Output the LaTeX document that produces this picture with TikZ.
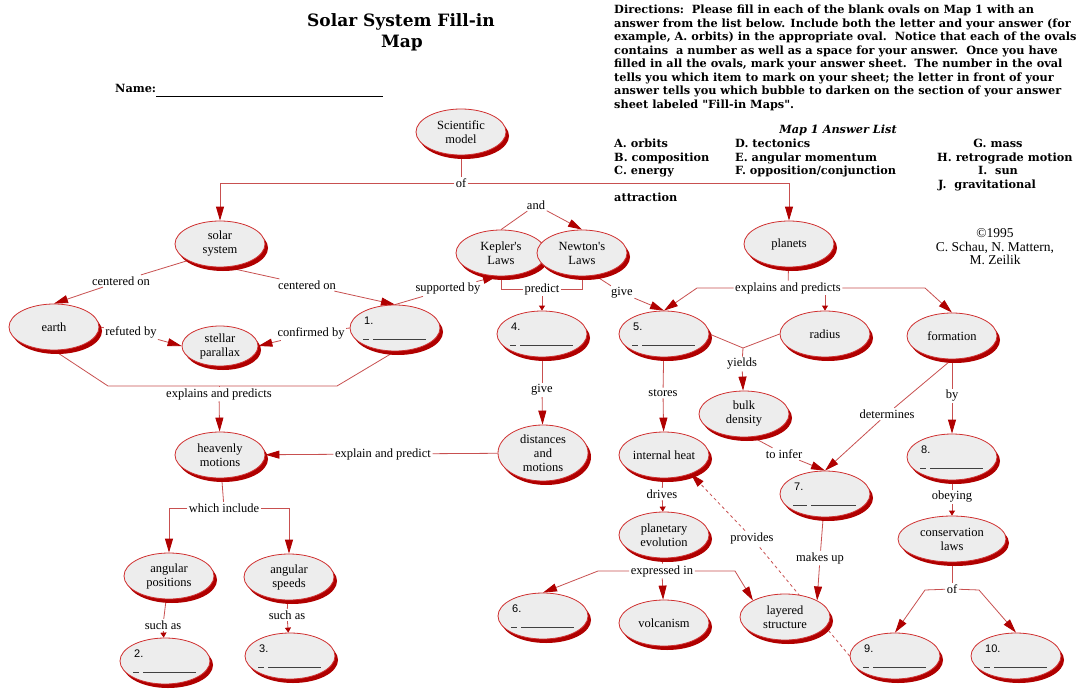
\documentclass[tikz,border=0pt]{standalone}
\usepackage{fontspec}
\setmainfont{Liberation Serif}
\newfontfamily\dejaserif{DejaVu Serif}
\newfontfamily\blankfont{Liberation Sans}
\usetikzlibrary{shapes.geometric,arrows.meta,shadows,calc}
\pgfdeclarelayer{bg}
\pgfsetlayers{bg,main}
\definecolor{ovfill}{HTML}{EDEDED}
\definecolor{ovline}{HTML}{D03030}
\definecolor{shred}{HTML}{B00000}
\definecolor{lnred}{HTML}{C85050}
\definecolor{tipred}{HTML}{B00000}
\tikzset{
  oval/.style={ellipse, draw=ovline, line width=0.8pt, fill=ovfill,
    minimum width=90pt, minimum height=46pt, inner sep=0pt, align=center,
    font=\fontsize{12.5}{14}\selectfont,
    general shadow={fill=shred, shadow xshift=3pt, shadow yshift=-4pt}},
  lbl/.style={inner sep=1.5pt, font=\fontsize{12.5}{14}\selectfont},
  conn/.style={draw=lnred, line width=0.8pt},
  arr/.style={conn, -{Triangle[length=14pt,width=8pt,color=tipred]}},
  sarr/.style={conn, -{Triangle[length=5pt,width=6pt,color=tipred]}},
  hdr/.style={font=\dejaserif\bfseries\fontsize{11.3}{13}\selectfont, inner sep=0pt, anchor=base west},
  cpy/.style={font=\fontsize{13.5}{15}\selectfont, inner sep=0pt, anchor=base},
  ttl/.style={font=\dejaserif\bfseries\fontsize{17}{20}\selectfont, inner sep=0pt, anchor=base},
  blanknum/.style={font=\blankfont\fontsize{11}{12}\selectfont, inner sep=0pt, anchor=base west},
  blankln/.style={draw=black!75, line width=0.9pt},
}
\newcommand\blankov[3][6]{%
  \node[blanknum] at ($(#2.center)+(-31,-4)$) {#3.};
  \draw[blankln] ($(#2.center)+(-32,11)$) -- ++(#1,0) ++(4,0) -- ($(#2.center)+(31,11)$);
}
\begin{document}
\begin{tikzpicture}[x=1pt,y=-1pt]
\useasboundingbox (0,0) rectangle (1084,690);
\begin{pgfonlayer}{bg}
\fill[white] (0,0) rectangle (1084,690);
\end{pgfonlayer}

% ---------- header texts ----------
\node[ttl] (t1) at (401,27) {Solar System Fill-in};
\node[ttl] (t2) at (402,48) {Map};
\node[hdr] (nm) at (115,93) {Name:};
\coordinate (nmend) at (383,96);
\draw[line width=0.8pt] (nm.base east |- nmend) -- (nmend);

\node[hdr] (d1) at (614,14) {Directions:\ \ Please fill in each of the blank ovals on Map 1 with an};
\node[hdr] (d2) at (614,27.5) {answer from the list below. Include both the letter and your answer (for};
\node[hdr] (d3) at (614,41) {example, A. orbits) in the appropriate oval.\ \ Notice that each of the ovals};
\node[hdr] (d4) at (614,54.5) {contains\ \ a number as well as a space for your answer.\ \ Once you have};
\node[hdr] (d5) at (614,68) {filled in all the ovals, mark your answer sheet.\ \ The number in the oval};
\node[hdr] (d6) at (614,81.5) {tells you which item to mark on your sheet; the letter in front of your};
\node[hdr] (d7) at (614,95) {answer tells you which bubble to darken on the section of your answer};
\node[hdr] (d8) at (614,108.5) {sheet labeled "Fill-in Maps".};

\node[hdr, anchor=base, font=\dejaserif\bfseries\itshape\fontsize{11.3}{13}\selectfont] (alh) at (838,134) {Map 1 Answer List};
\node[hdr] (aA) at (614,148) {A. orbits};
\node[hdr] (aB) at (614,161) {B. composition};
\node[hdr] (aC) at (614,175) {C. energy};
\node[hdr] (aD) at (735,148) {D. tectonics};
\node[hdr] (aE) at (735,161) {E. angular momentum};
\node[hdr] (aF) at (735,175) {F. opposition/conjunction};
\node[hdr, anchor=base] (aG) at (998,148) {G. mass};
\node[hdr] (aH) at (937,161) {H. retrograde motion};
\node[hdr, anchor=base] (aI) at (998,175) {I.\ \ sun};
\node[hdr] (aJ) at (938,188) {J.\ \ gravitational};
\node[hdr] (attr) at (614,201) {attraction};

\node[cpy] (cp1) at (995,237) {©1995};
\node[cpy] (cp2) at (995,251) {C. Schau, N. Mattern,};
\node[cpy] (cp3) at (995,264) {M. Zeilik};

% ---------- ovals ----------
\node[oval] (model) at (461,132) {Scientific\\model};
\node[oval] (solar) at (220,244) {solar\\system};
\node[oval] (kepler) at (501,253) {Kepler\textquotesingle s\\Laws};
\node[oval] (newton) at (582,253) {Newton\textquotesingle s\\Laws};
\node[oval] (planets) at (789,244) {planets};
\node[oval] (earth) at (54,327) {earth};
\node[oval, minimum width=76pt, minimum height=40pt] (parallax) at (220,346) {stellar\\parallax};
\node[oval] (n1) at (395,328) {};
\node[oval] (n4) at (542,334) {};
\node[oval] (n5) at (664,334) {};
\node[oval] (radius) at (825,334) {radius};
\node[oval] (formation) at (952,336) {formation};
\node[oval] (bulk) at (744,414) {bulk\\density};
\node[oval] (heavenly) at (220,455) {heavenly\\motions};
\node[oval, minimum height=56pt] (distances) at (543,453) {distances\\and\\motions};
\node[oval] (heat) at (664,455) {internal heat};
\node[oval] (n7) at (825,494) {};
\node[oval] (n8) at (952,457) {};
\node[oval] (planetary) at (664,535) {planetary\\evolution};
\node[oval, minimum width=108pt] (conservation) at (952,539) {conservation\\laws};
\node[oval] (angpos) at (169,576) {angular\\positions};
\node[oval] (angspd) at (289,577) {angular\\speeds};
\node[oval] (n2) at (165,661) {};
\node[oval] (n3) at (290,656) {};
\node[oval] (n6) at (543,616) {};
\node[oval] (volcanism) at (664,623) {volcanism};
\node[oval] (layered) at (785,617) {layered\\structure};
\node[oval] (n9) at (895,656) {};
\node[oval] (n10) at (1016,656) {};

\blankov{n1}{1}
\blankov{n2}{2}
\blankov{n3}{3}
\blankov{n4}{4}
\blankov{n5}{5}
\blankov{n6}{6}
\blankov[14]{n7}{7}
\blankov{n8}{8}
\blankov{n9}{9}
\blankov{n10}{10}

% ---------- labels ----------
\node[lbl] (of1) at (461,183) {of};
\node[lbl] (lc1) at (121,281) {centered on};
\node[lbl] (lc2) at (307,285) {centered on};
\node[lbl] (lsup) at (448,289) {supported by};
\node[lbl] (land) at (536,205) {and};
\node[lbl] (lpred) at (542,289) {predict};
\node[lbl] (lgive1) at (622,293) {give};
\node[lbl] (lexp1) at (788,288) {explains and predicts};
\node[lbl] (lyields) at (742,364) {yields};
\node[lbl] (lgive2) at (542,390) {give};
\node[lbl] (lstores) at (663,393) {stores};
\node[lbl] (lexpl) at (383,454) {explain and predict};
\node[lbl] (lexp2) at (219,394) {explains and predicts};
\node[lbl] (lref) at (131,332) {refuted by};
\node[lbl] (lconf) at (311,333) {confirmed by};
\node[lbl] (lwhich) at (224,508) {which include};
\node[lbl] (lsuch1) at (163,625) {such as};
\node[lbl] (lsuch2) at (287,615) {such as};
\node[lbl] (ldrives) at (662,494) {drives};
\node[lbl] (lexpr) at (662,571) {expressed in};
\node[lbl] (lprov) at (752,538) {provides};
\node[lbl] (linfer) at (784,454) {to infer};
\node[lbl] (ldet) at (887,414) {determines};
\node[lbl] (lby) at (952,396) {by};
\node[lbl] (lmakes) at (820,558) {makes up};
\node[lbl] (lobey) at (952,497) {obeying};
\node[lbl] (lof2) at (952,589) {of};

\coordinate (c1) at (697,288);
\coordinate (c2) at (925,288);
\coordinate (j1) at (743,348);
\coordinate (c3) at (108,386);
\coordinate (c4) at (337,386);
\coordinate (c5) at (598,571);
\coordinate (c6) at (735,571);
\coordinate (c7) at (925,590);
\coordinate (c8) at (979,590);

% ---------- connectors ----------
\begin{pgfonlayer}{bg}
\draw[conn] (model) -- (of1);
\draw[arr] (of1) -| (solar);
\draw[arr] (of1) -| (planets);
\draw[conn] (solar.south west) -- (lc1);
\draw[arr] (lc1) -- (earth.north);
\draw[conn] (solar.-75) -- (lc2);
\draw[arr] (lc2) -- (n1.north);
\draw[arr] (n1.north) -- (lsup) -- (kepler.-100);
\draw[conn] (kepler.north) -- (land);
\draw[arr] (land) -- (newton.north);
\draw[conn] (kepler.south) |- (lpred) -| (newton.south);
\draw[sarr] (lpred) -- (n4);
\draw[conn] (newton.-60) -- (lgive1);
\draw[arr] (lgive1) -- (n5.north);
\draw[conn] (planets) -- (lexp1);
\draw[arr] (lexp1) -- (c1) -- (n5.north);
\draw[sarr] (lexp1.south -| radius.north) -- (radius.north);
\draw[arr] (lexp1) -- (c2) -- (formation.north);
\draw[conn] (n5.east) -- (j1) -- (radius.west);
\draw[conn] (j1) -- (lyields);
\draw[arr] (lyields) -- (bulk);
\draw[conn] (n4) -- (lgive2);
\draw[arr] (lgive2) -- (distances);
\draw[conn] (n5) -- (lstores);
\draw[arr] (lstores) -- (heat);
\draw[conn] (distances) -- (lexpl);
\draw[arr] (lexpl) -- (heavenly);
\draw[conn] (earth.south) -- (c3) -- (c4) -- (n1.south);
\draw[conn] (lexp2.north) -- (lexp2.north |- c3);
\draw[arr] (lexp2) -- (heavenly);
\draw[conn] (earth.east) -- (lref);
\draw[arr] (lref) -- (parallax.west);
\draw[conn] (n1.west) -- (lconf);
\draw[arr] (lconf) -- (parallax.east);
\draw[conn] (heavenly) -- (lwhich);
\draw[arr] (lwhich) -| (angpos);
\draw[arr] (lwhich) -| (angspd);
\draw[conn] (angpos) -- (lsuch1);
\draw[sarr] (lsuch1) -- (n2);
\draw[conn] (angspd) -- (lsuch2);
\draw[sarr] (lsuch2) -- (n3);
\draw[conn] (heat) -- (ldrives);
\draw[sarr] (ldrives) -- (planetary);
\draw[conn] (planetary) -- (lexpr);
\draw[arr] (lexpr) -- (c5) -- (n6.north);
\draw[arr] (lexpr) -- (volcanism);
\draw[arr] (lexpr) -- (c6) -- (layered.north west);
\draw[conn, dashed] (n9.west) -- (lprov);
\draw[arr, dashed] (lprov) -- (heat.-35);
\draw[conn] (bulk.-70) -- (linfer);
\draw[arr] (linfer) -- (n7.north);
\draw[conn] (formation.south) -- (ldet);
\draw[arr] (ldet) -- (n7.north);
\draw[conn] (formation) -- (lby);
\draw[arr] (lby) -- (n8);
\draw[conn] (n7) -- (lmakes);
\draw[arr] (lmakes) -- (layered.north east);
\draw[conn] (n8) -- (lobey);
\draw[sarr] (lobey) -- (conservation);
\draw[conn] (conservation) -- (lof2);
\draw[arr] (lof2) -- (c7) -- (n9.north);
\draw[arr] (lof2) -- (c8) -- (n10.north);
\end{pgfonlayer}
\end{tikzpicture}
\end{document}
